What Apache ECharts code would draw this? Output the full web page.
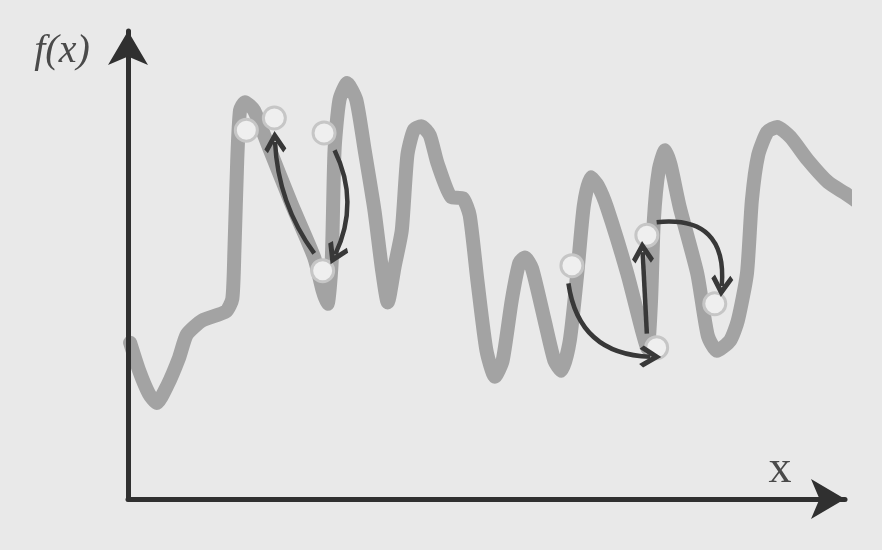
<!DOCTYPE html>
<html>
<head>
<meta charset="utf-8">
<script src="https://cdn.jsdelivr.net/npm/echarts@6/dist/echarts.min.js"></script>
<style>
  html, body { margin: 0; padding: 0; background: #e9e9e9; }
  #chart { width: 882px; height: 550px; }
</style>
</head>
<body>
<div id="chart"></div>
<script>
// Curve f(x): [x, f(x)] in axis units
const curveX = [0.3, 1.6, 3.0, 4.1, 5.6, 7.3, 8.4, 10.6, 14.0, 14.9, 15.2, 15.6, 16.0, 16.7, 18.0, 19.9, 23.3, 26.6, 27.8, 28.5,
  29.1, 29.5, 30.2, 31.3, 32.6, 33.8, 35.2, 36.3, 37.1, 38.1, 39.1, 39.9, 40.8, 41.9, 43.1, 44.2, 46.2, 47.8, 48.8, 49.9,
  51.2, 52.4, 53.5, 54.8, 55.9, 56.7, 57.7, 59.5, 60.9, 61.9, 63.1, 64.2, 65.1, 66.1, 67.1, 68.4, 71.3, 73.4, 74.2, 74.7,
  75.1, 75.8, 76.7, 77.5, 78.8, 81.3, 82.8, 84.1, 86.0, 87.1, 88.4, 89.1, 90.0, 91.3, 92.7, 94.6, 97.1, 100.0, 102.4, 103.9];
const curveY = [34.5, 28.3, 23.2, 21.2, 25.0, 31.2, 36.3, 39.4, 41.4, 44.2, 54.9, 74.8, 85.8, 87.6, 85.8, 78.5, 65.3, 53.3, 46.0, 43.1,
  52.7, 77.0, 88.1, 91.8, 88.1, 77.0, 63.7, 50.4, 43.4, 51.5, 59.3, 75.9, 81.4, 82.3, 80.3, 74.1, 66.6, 66.4, 62.6, 48.2,
  32.7, 27.0, 30.5, 43.8, 52.2, 53.3, 50.9, 39.4, 30.5, 28.3, 35.0, 50.4, 64.8, 71.0, 69.2, 64.4, 49.8, 37.2, 33.2, 43.8,
  61.5, 72.6, 77.0, 73.7, 64.4, 49.8, 36.1, 32.7, 35.0, 39.4, 49.8, 65.9, 75.9, 81.0, 82.1, 79.9, 74.8, 69.9, 67.5, 65.9];

// Sample points on the curve
const pointX = [16.9, 20.9, 28.0, 27.8, 63.4, 74.1, 75.5, 83.8];
const pointY = [81.4, 84.1, 80.8, 50.4, 51.5, 58.2, 33.4, 43.1];

// Moves (arrows): start, end, curvature
const arrowFromX = [26.6, 29.5, 62.9, 74.1, 75.5];
const arrowFromY = [54.2, 77.0, 47.6, 36.5, 61.1];
const arrowToX   = [21.0, 29.6, 74.6, 73.5, 84.8];
const arrowToY   = [78.8, 54.0, 31.4, 54.5, 47.0];
const arrowBend  = [0.15, 0.24, -0.42, 0, 0.6];

// Axis extents
const xMax = 102.4;
const yMax = 103.3;

const yLabel = 'f(x)';
const xLabel = 'x';

const curveData = curveX.map((x, i) => [x, curveY[i]]);
const pointData = pointX.map((x, i) => [x, pointY[i]]);
const arrowData = arrowFromX.map((x, i) => ({
  coords: [[x, arrowFromY[i]], [arrowToX[i], arrowToY[i]]],
  lineStyle: { curveness: arrowBend[i] }
}));

const chart = echarts.init(document.getElementById('chart'), null, { renderer: 'canvas' });
function axis(max) {
  return {
    type: 'value',
    min: 0,
    max: max,
    z: 10,
    axisLine: {
      show: true,
      symbol: ['none', 'arrow'],
      symbolSize: [30, 34],
      lineStyle: { color: '#303030', width: 5 }
    },
    axisTick: { show: false },
    axisLabel: { show: false },
    splitLine: { show: false }
  };
}

chart.setOption({
  backgroundColor: '#e9e9e9',
  animation: false,
  grid: { left: 128, right: 37, top: 31, bottom: 51 },
  xAxis: axis(xMax),
  yAxis: axis(yMax),
  graphic: [
    {
      type: 'text', x: 62, y: 51, z: 20,
      style: { text: yLabel, fill: '#4a4a4a', font: 'italic 40px "Liberation Serif"', align: 'center', verticalAlign: 'middle' }
    },
    {
      type: 'text', x: 780, y: 470, z: 20,
      style: { text: xLabel, fill: '#4a4a4a', font: '46px "Liberation Serif"', align: 'center', verticalAlign: 'middle' }
    }
  ],
  series: [
    {
      type: 'line',
      data: curveData,
      clip: false,
      symbol: 'none',
      smooth: 0.2,
      z: 2,
      lineStyle: { color: '#a3a3a3', width: 14, cap: 'round', join: 'round' }
    },
    {
      type: 'scatter',
      data: pointData,
      symbolSize: 22,
      z: 3,
      itemStyle: { color: '#efefef', borderColor: '#c6c6c6', borderWidth: 3, opacity: 1 }
    },
    {
      type: 'lines',
      coordinateSystem: 'cartesian2d',
      data: arrowData,
      z: 4,
      symbol: ['none', 'path://M10,0 L20,13 L17,16 L10,7 L3,16 L0,13 Z'],
      symbolSize: 22,
      lineStyle: { color: '#383838', width: 4.5, opacity: 1 }
    }
  ]
});
</script>
</body>
</html>
